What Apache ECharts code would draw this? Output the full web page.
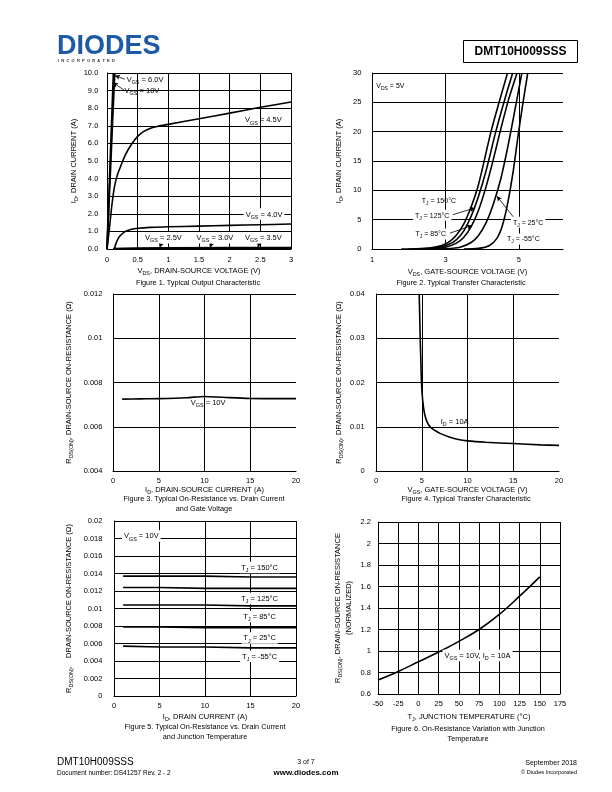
<!DOCTYPE html>
<html><head><meta charset="utf-8">
<script src="https://cdn.jsdelivr.net/npm/echarts@6/dist/echarts.min.js"></script>
<style>html,body{margin:0;padding:0;background:#fff}#c{width:612px;height:792px}</style>
</head><body><div id="c"></div>
<script>
const F = 'Liberation Sans, Arial, Helvetica, sans-serif';

// ---------- Figure 1: Typical Output Characteristic (VDS, ID) ----------
const fig1XRange = [0, 3, 0.5];
const fig1YRange = [0, 10, 1];
const fig1Vgs10 = [[0,0],[0.105,10]];
const fig1Vgs6 = [[0,0],[0.125,10]];
const fig1Vgs45 = [[0,0],[0.04,1.2],[0.08,2.5],[0.12,3.5],[0.16,4.1],[0.2,4.5],[0.3,5.35],[0.4,5.95],[0.5,6.4],[0.6,6.68],[0.7,6.85],[0.8,6.95],[1.0,7.08],[1.5,7.4],[2.0,7.72],[2.5,8.05],[3.0,8.35]];
const fig1Vgs4 = [[0.12,0],[0.15,0.35],[0.2,0.7],[0.3,1.0],[0.4,1.12],[0.5,1.18],[0.7,1.23],[1.0,1.26],[1.5,1.3],[2.0,1.34],[2.5,1.38],[3.0,1.42]];
const fig1Vgs35 = [[0.1,0.02],[0.5,0.05],[1,0.06],[2,0.07],[3,0.08]];
const fig1Vgs3 = [[0.1,0],[1,0.02],[3,0.03]];
const fig1Vgs25 = [[0.1,0],[3,0]];

// ---------- Figure 2: Typical Transfer Characteristic (VGS, ID) ----------
const fig2XRange = [1, 6.2, 2];
const fig2YRange = [0, 30, 5];
const fig2T150 = [[1.8,0],[2.2,0.03],[2.6,0.2],[2.9,0.6],[3.1,1.2],[3.3,2.4],[3.5,4.3],[3.7,7.2],[3.9,11],[4.24,20],[4.46,25],[4.69,30]];
const fig2T125 = [[2.0,0],[2.4,0.04],[2.8,0.25],[3.1,0.8],[3.3,1.6],[3.5,3.1],[3.7,5.6],[3.9,9.0],[4.1,13.2],[4.37,20],[4.6,25.2],[4.83,30]];
const fig2T85 = [[2.2,0],[2.6,0.04],[3.0,0.3],[3.3,1.0],[3.5,2.0],[3.7,3.8],[3.9,6.6],[4.1,10.5],[4.3,15.2],[4.5,20.3],[4.72,25.5],[4.95,30]];
const fig2T25 = [[2.6,0],[3.0,0.04],[3.4,0.3],[3.7,1.1],[3.9,2.3],[4.1,4.4],[4.3,7.6],[4.5,11.8],[4.7,17.5],[4.9,24],[5.08,30]];
const fig2Tm55 = [[3.5,0],[3.9,0.1],[4.2,0.6],[4.4,1.8],[4.55,4.0],[4.7,8.0],[4.85,13.5],[4.97,19],[5.1,24.5],[5.24,30]];

// ---------- Figure 3: RDS(ON) vs ID, VGS = 10V ----------
const fig3XRange = [0, 20, 5];
const fig3YRange = [0.004, 0.012, 0.002];
const fig3Vgs10 = [[1,0.00725],[3,0.00726],[5,0.00727],[8,0.00731],[10,0.00737],[12,0.00733],[15,0.00728],[20,0.00727]];

// ---------- Figure 4: RDS(ON) vs VGS, ID = 10A ----------
const fig4XRange = [0, 20, 5];
const fig4YRange = [0, 0.04, 0.01];
const fig4Id10 = [[4.72,0.04],[4.78,0.035],[4.83,0.03],[4.9,0.025],[4.97,0.02],[5.1,0.016],[5.3,0.013],[5.6,0.011],[6.0,0.0098],[6.5,0.0091],[7,0.0085],[8,0.0077],[9,0.0071],[10,0.0068],[12,0.0065],[15,0.0062],[18,0.0059],[20,0.0058]];

// ---------- Figure 5: RDS(ON) vs ID and TJ ----------
const fig5XRange = [0, 20, 5];
const fig5YRange = [0, 0.02, 0.002];
const fig5Id = [1, 5, 10, 15, 20];
const fig5T150 = [0.0137, 0.0137, 0.0137, 0.0136, 0.0136];
const fig5T125 = [0.0124, 0.0124, 0.0123, 0.0123, 0.0123];
const fig5T85 = [0.0104, 0.0104, 0.0104, 0.0103, 0.0103];
const fig5T25 = [0.0079, 0.0079, 0.0078, 0.0078, 0.0078];
const fig5Tm55 = [0.0057, 0.0056, 0.0056, 0.0055, 0.0055];

// ---------- Figure 6: normalized RDS(ON) vs TJ ----------
const fig6XRange = [-50, 175, 25];
const fig6YRange = [0.6, 2.2, 0.2];
const fig6Tj = [-50, -25, 0, 25, 50, 75, 100, 125, 150];
const fig6Rn = [0.73, 0.81, 0.9, 0.99, 1.09, 1.2, 1.34, 1.51, 1.69];

// ---------- helpers ----------
function rich(fs) {
  return {
    n: {fontSize: fs, fontFamily: F, color: '#000', lineHeight: fs + 3},
    s: {fontSize: fs * 0.72, fontFamily: F, color: '#000', lineHeight: fs * 0.72, verticalAlign: 'bottom'}
  };
}
const sub = (a, b, c) => '{n|' + a + '}{s|' + b + '}{n|' + c + '}';

const grids = [
  {left: 107, top: 73, width: 184, height: 176},
  {left: 372, top: 73, width: 191, height: 176},
  {left: 113, top: 294, width: 183, height: 177},
  {left: 376, top: 294, width: 183, height: 177},
  {left: 114, top: 521, width: 182, height: 175},
  {left: 378, top: 522, width: 182, height: 172}
];

function axis(gi, r, name, gap, rot, split, labMargin, extra) {
  return Object.assign({
    type: 'value', gridIndex: gi, min: r[0], max: r[1], interval: r[2],
    name: name, nameLocation: 'middle', nameGap: gap, nameRotate: rot,
    nameTextStyle: {rich: rich(7.5), fontFamily: F, fontSize: 7.5, color: '#000'},
    axisLine: {onZero: false, lineStyle: {color: '#000', width: 1}},
    axisTick: {show: false},
    axisLabel: {fontSize: 7.5, fontFamily: F, color: '#000', margin: labMargin},
    splitLine: {show: split, lineStyle: {color: '#000', width: 1}}
  }, extra || {});
}

function curve(gi, data, w, sm) {
  return {type: 'line', xAxisIndex: gi, yAxisIndex: gi, data: data, symbol: 'none', showSymbol: false,
    smooth: sm === undefined ? 0.3 : sm, silent: true, z: 3,
    lineStyle: {color: '#000', width: w || 1.6}};
}

function vgrid(gi, xs, y0) {
  return {type: 'line', xAxisIndex: gi, yAxisIndex: gi, data: [[xs[0], y0]], symbol: 'none', silent: true, z: 1,
    lineStyle: {opacity: 0},
    markLine: {silent: true, symbol: ['none', 'none'], label: {show: false}, animation: false,
      lineStyle: {color: '#000', width: 1, type: 'solid'},
      data: xs.map(x => ({xAxis: x}))}};
}

function anno(gi, labels, arrows, fs, anchor) {
  return {type: 'line', xAxisIndex: gi, yAxisIndex: gi, data: [anchor], symbol: 'none', silent: true, z: 5,
    lineStyle: {opacity: 0},
    markPoint: {silent: true, animation: false,
      data: labels.map(l => ({coord: [l[0], l[1]], symbol: 'circle', symbolSize: 0,
        label: {show: true, position: 'inside', formatter: l[2], rich: rich(fs), fontFamily: F, fontSize: fs, color: '#000',
          backgroundColor: l[3] ? '#fff' : 'transparent', padding: [1, 2, 0, 2]}}))},
    markLine: {silent: true, animation: false, symbol: ['none', 'arrow'], symbolSize: [4, 5], label: {show: false},
      lineStyle: {color: '#000', width: 0.8, type: 'solid'},
      data: arrows.map(a => [{coord: [a[0], a[1]]}, {coord: [a[2], a[3]]}])}};
}

const series = [
  // fig 1
  curve(0, fig1Vgs10, 1.8, false), curve(0, fig1Vgs6, 1.8, false), curve(0, fig1Vgs45, 1.6, 0.35), curve(0, fig1Vgs4, 1.6, 0.35),
  curve(0, fig1Vgs35, 1.8, false), curve(0, fig1Vgs3, 1.8, false), curve(0, fig1Vgs25, 1.8, false),
  anno(0, [
    [0.62, 9.62, sub('V', 'GS', ' = 6.0V')],
    [0.57, 9.0, sub('V', 'GS', ' = 10V')],
    [2.55, 7.34, sub('V', 'GS', ' = 4.5V')],
    [2.56, 1.99, sub('V', 'GS', ' = 4.0V'), true],
    [0.92, 0.64, sub('V', 'GS', ' = 2.5V'), true],
    [1.76, 0.64, sub('V', 'GS', ' = 3.0V'), true],
    [2.55, 0.64, sub('V', 'GS', ' = 3.5V'), true]
  ], [
    [0.29, 9.65, 0.13, 9.85],
    [0.29, 9.0, 0.1, 9.45],
    [0.9, 0.5, 0.86, 0.08],
    [1.72, 0.5, 1.68, 0.08],
    [2.5, 0.5, 2.46, 0.1]
  ], 7.5, [0, 0]),
  // fig 2
  vgrid(1, [3, 5], 0),
  curve(1, fig2T150), curve(1, fig2T125), curve(1, fig2T85), curve(1, fig2T25), curve(1, fig2Tm55),
  anno(1, [
    [1.5, 27.9, sub('V', 'DS', ' = 5V')],
    [2.82, 8.2, sub('T', 'J', ' = 150°C')],
    [2.64, 5.74, sub('T', 'J', ' = 125°C'), true],
    [2.6, 2.56, sub('T', 'J', ' = 85°C'), true],
    [5.25, 4.55, sub('T', 'J', ' = 25°C'), true],
    [5.12, 1.7, sub('T', 'J', ' = -55°C'), true]
  ], [
    [3.2, 5.85, 3.8, 7.0],
    [3.12, 2.7, 3.72, 4.0],
    [4.85, 5.45, 4.4, 9.0]
  ], 7, [1, 0]),
  // fig 3
  vgrid(2, [5, 10, 15], 0.004),
  curve(2, fig3Vgs10),
  anno(2, [[10.4, 0.0071, sub('V', 'GS', ' = 10V')]], [], 7.5, [0, 0.004]),
  // fig 4
  vgrid(3, [5, 10, 15], 0),
  curve(3, fig4Id10, 1.6, 0.3),
  anno(3, [[8.6, 0.0113, sub('I', 'D', ' = 10A')]], [], 7.5, [0, 0]),
  // fig 5
  curve(4, fig5Id.map((x, i) => [x, fig5T150[i]]), 1.6, false),
  curve(4, fig5Id.map((x, i) => [x, fig5T125[i]]), 1.6, false),
  curve(4, fig5Id.map((x, i) => [x, fig5T85[i]]), 1.6, false),
  curve(4, fig5Id.map((x, i) => [x, fig5T25[i]]), 1.6, false),
  curve(4, fig5Id.map((x, i) => [x, fig5Tm55[i]]), 1.6, false),
  anno(4, [
    [3.0, 0.0183, sub('V', 'GS', ' = 10V'), true],
    [16.0, 0.0147, sub('T', 'J', ' = 150°C'), true],
    [16.0, 0.01115, sub('T', 'J', ' = 125°C'), true],
    [16.0, 0.0091, sub('T', 'J', ' = 85°C'), true],
    [16.0, 0.00664, sub('T', 'J', ' = 25°C'), true],
    [16.0, 0.00454, sub('T', 'J', ' = -55°C'), true]
  ], [], 7.5, [0, 0]),
  // fig 6
  curve(5, fig6Tj.map((x, i) => [x, fig6Rn[i]]), 1.6, 0.4),
  anno(5, [[73, 0.957, sub('V', 'GS', ' = 10V, ') + sub('I', 'D', ' = 10A'), true]], [], 7.5, [-50, 0.6])
];

const xAxes = [
  axis(0, fig1XRange, sub('V', 'DS', ', DRAIN-SOURCE VOLTAGE (V)'), 16.5, 0, true, 6.5),
  axis(1, fig2XRange, sub('V', 'DS', ', GATE-SOURCE VOLTAGE (V)'), 17.5, 0, false, 6.5, {axisLabel: {fontSize: 7.5, fontFamily: F, color: '#000', margin: 6.5, showMaxLabel: false}}),
  axis(2, fig3XRange, sub('I', 'D', ', DRAIN-SOURCE CURRENT (A)'), 12.5, 0, false, 6),
  axis(3, fig4XRange, sub('V', 'GS', ', GATE-SOURCE VOLTAGE (V)'), 12.5, 0, false, 6),
  axis(4, fig5XRange, sub('I', 'D', ', DRAIN CURRENT (A)'), 15.5, 0, true, 6),
  axis(5, fig6XRange, sub('T', 'J', ', JUNCTION TEMPERATURE (°C)'), 18, 0, true, 6)
];
const yAxes = [
  axis(0, fig1YRange, sub('I', 'D', ', DRAIN CURRENT (A)'), 27.5, 90, true, 8.7, {axisLabel: {fontSize: 7.5, fontFamily: F, color: '#000', margin: 8.7, formatter: v => v.toFixed(1)}}),
  axis(1, fig2YRange, sub('I', 'D', ', DRAIN CURRENT (A)'), 27.5, 90, true, 10.7),
  axis(2, fig3YRange, sub('R', 'DS(ON)', ', DRAIN-SOURCE ON-RESISTANCE (Ω)'), 39, 90, true, 10.6),
  axis(3, fig4YRange, sub('R', 'DS(ON)', ', DRAIN-SOURCE ON-RESISTANCE (Ω)'), 31.5, 90, true, 11.4),
  axis(4, fig5YRange, sub('R', 'DS(ON)', ',    DRAIN-SOURCE ON-RESISTANCE (Ω)'), 39.5, 90, true, 11.6),
  axis(5, fig6YRange, sub('R', 'DS(ON)', ', DRAIN-SOURCE ON-RESISTANCE') + '\n{n|(NORMALIZED)}', 24, 90, true, 7)
];

function txt(t, x, y, fs, opts) {
  return {type: 'text', x: x, y: y, silent: true, style: Object.assign({text: t, fontSize: fs, fontFamily: F, fill: '#000',
    align: 'center', verticalAlign: 'middle', textAlign: 'center', textVerticalAlign: 'middle'}, opts || {})};
}
const cap = 7.3;
const graphic = [
  txt('DIODES', 57, 46.5, 27, {fontWeight: 'bold', fill: '#1d5aa6', align: 'left', textAlign: 'left'}),
  txt('I  N  C  O  R  P  O  R  A  T  E  D', 58, 61, 4, {fontWeight: 'bold', fill: '#333', align: 'left', textAlign: 'left'}),
  {type: 'rect', shape: {x: 463.5, y: 40.5, width: 114, height: 22}, style: {fill: 'none', stroke: '#000', lineWidth: 1}, silent: true},
  txt('DMT10H009SSS', 520.5, 52, 12, {fontWeight: 'bold'}),
  txt('Figure 1. Typical Output Characteristic', 198, 283, cap),
  txt('Figure 2. Typical Transfer Characteristic', 461, 283, cap),
  txt('Figure 3. Typical On-Resistance vs. Drain Current', 204, 499, cap),
  txt('and Gate Voltage', 204, 509, cap),
  txt('Figure 4. Typical Transfer Characteristic', 466, 499, cap),
  txt('Figure 5. Typical On-Resistance vs. Drain Current', 205, 727, cap),
  txt('and Junction Temperature', 205, 737, cap),
  txt('Figure 6. On-Resistance Variation with Junction', 468, 729, cap),
  txt('Temperature', 468, 739, cap),
  txt('DMT10H009SSS', 57, 762, 10, {align: 'left', textAlign: 'left'}),
  txt('Document number: DS41257 Rev. 2 - 2', 57, 773, 6.5, {align: 'left', textAlign: 'left'}),
  txt('3 of 7', 306, 762, 7),
  txt('www.diodes.com', 306, 772.5, 8, {fontWeight: 'bold'}),
  txt('September 2018', 577, 763, 7, {align: 'right', textAlign: 'right'}),
  txt('© Diodes Incorporated', 577, 772, 5.6, {align: 'right', textAlign: 'right'})
];

const chart = echarts.init(document.getElementById('c'), null, {renderer: 'canvas'});
chart.setOption({
  animation: false,
  backgroundColor: '#fff',
  grid: grids,
  xAxis: xAxes,
  yAxis: yAxes,
  series: series,
  graphic: graphic
});
</script>
</body></html>
